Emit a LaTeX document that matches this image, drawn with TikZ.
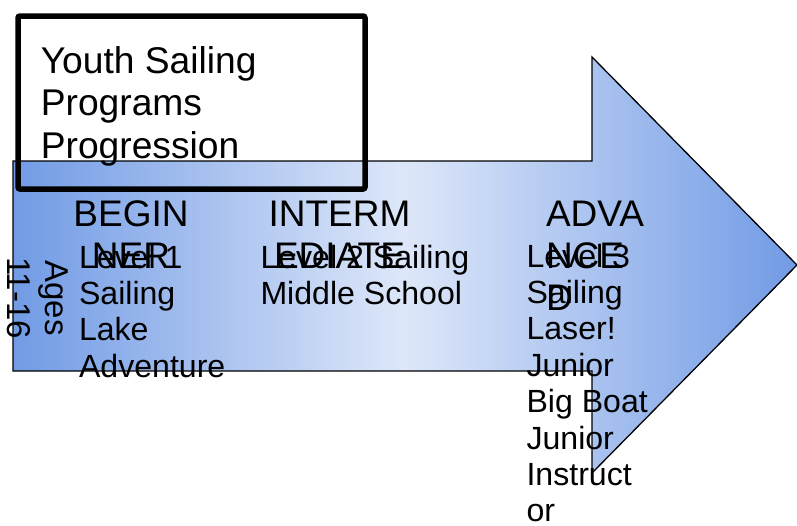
\documentclass[tikz,border=0pt]{standalone}
\usepackage{fontspec}
\setmainfont{Liberation Sans}
\definecolor{arrowblue}{RGB}{113,155,229}
\definecolor{arrowlight}{RGB}{222,231,249}
\begin{document}
\begin{tikzpicture}[x=1pt,y=-1pt,
  titlefont/.style={font=\fontsize{37.2}{42.5}\selectfont},
  stagefont/.style={font=\fontsize{37}{41.6}\selectfont},
  levelfont/.style={font=\fontsize{32.1}{36.4}\selectfont},
  agesfont/.style={font=\fontsize{33}{38}\selectfont},
  txt/.style={inner sep=0pt, outer sep=0pt, text=black},
  arrowshape/.style={draw=black, line width=1.3pt, line join=miter,
    left color=arrowblue, right color=arrowblue, middle color=arrowlight},
  titlebox/.style={draw=black, line width=5.5pt, rounded corners=2pt}]
\useasboundingbox (0,0) rectangle (797,525);
% big arrow
\coordinate (a1) at (13,161);
\coordinate (a2) at (592,161);
\coordinate (a3) at (592,57);
\coordinate (tip) at (797,265);
\coordinate (a5) at (592,473);
\coordinate (a6) at (592,371);
\coordinate (a7) at (13,371);
\path[arrowshape] (a1) -- (a2) -- (a3) -- (tip) -- (a5) -- (a6) -- (a7) -- cycle;
% title box
\coordinate (t1) at (18,16);
\coordinate (t2) at (365,189);
\draw[titlebox] (t1) rectangle (t2);
% (base anchor of a multi-line node = baseline of its last line)
\node[txt, titlefont, align=left, anchor=base west] (title) at (40.8,158.3)
  {Youth Sailing\\Programs\\Progression};
% stages
\node[txt, stagefont, align=center, anchor=base] (beg) at (131,268.3) {BEGIN\\NER};
\node[txt, stagefont, align=center, anchor=base] (int) at (339.5,268.3) {INTERM\\EDIATE};
\node[txt, stagefont, align=left, anchor=base west] (adv) at (546,310) {ADVA\\NCE\\D};
% levels
\node[txt, levelfont, align=left, anchor=base west] (lv1) at (79,377.2)
  {Level 1\\Sailing\\Lake\\Adventure};
\node[txt, levelfont, align=left, anchor=base west] (lv2) at (260.5,304.4)
  {Level 2 Sailing\\Middle School};
\node[txt, levelfont, align=left, anchor=base west] (lv3) at (526.5,521.8)
  {Level 3\\Sailing\\Laser!\\Junior\\Big Boat\\Junior\\Instruct\\or};
% ages
\node[txt, agesfont, align=center, anchor=base, rotate=-90] (ages) at (8,298)
  {Ages\\11-16};
\end{tikzpicture}
\end{document}
